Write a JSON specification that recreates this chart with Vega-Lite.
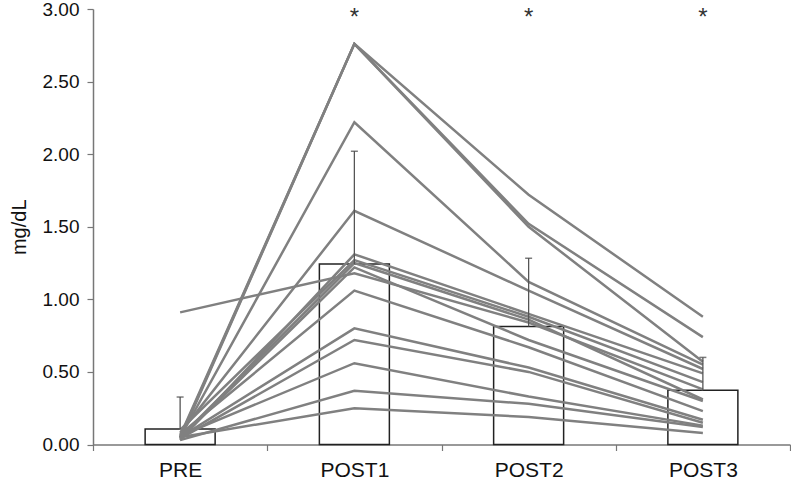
{
  "$schema": "https://vega.github.io/schema/vega-lite/v6.json",
  "autosize": {"type": "none"},
  "padding": {"left": 93, "top": 9, "right": 1, "bottom": 41.5},
  "width": 697,
  "height": 435.5,
  "background": "white",
  "config": {
    "font": "Liberation Sans",
    "view": {"stroke": null}
  },
  "datasets": {
    "subjects": [
      {"subject": "S1", "time": "PRE", "value": 0.05}, {"subject": "S1", "time": "POST1", "value": 2.76}, {"subject": "S1", "time": "POST2", "value": 1.72}, {"subject": "S1", "time": "POST3", "value": 0.88},
      {"subject": "S2", "time": "PRE", "value": 0.04}, {"subject": "S2", "time": "POST1", "value": 2.76}, {"subject": "S2", "time": "POST2", "value": 1.52}, {"subject": "S2", "time": "POST3", "value": 0.74},
      {"subject": "S3", "time": "PRE", "value": 0.06}, {"subject": "S3", "time": "POST1", "value": 2.76}, {"subject": "S3", "time": "POST2", "value": 1.50}, {"subject": "S3", "time": "POST3", "value": 0.57},
      {"subject": "S4", "time": "PRE", "value": 0.05}, {"subject": "S4", "time": "POST1", "value": 2.22}, {"subject": "S4", "time": "POST2", "value": 1.12}, {"subject": "S4", "time": "POST3", "value": 0.55},
      {"subject": "S5", "time": "PRE", "value": 0.08}, {"subject": "S5", "time": "POST1", "value": 1.61}, {"subject": "S5", "time": "POST2", "value": 1.06}, {"subject": "S5", "time": "POST3", "value": 0.52},
      {"subject": "S6", "time": "PRE", "value": 0.03}, {"subject": "S6", "time": "POST1", "value": 1.31}, {"subject": "S6", "time": "POST2", "value": 0.90}, {"subject": "S6", "time": "POST3", "value": 0.49},
      {"subject": "S7", "time": "PRE", "value": 0.10}, {"subject": "S7", "time": "POST1", "value": 1.27}, {"subject": "S7", "time": "POST2", "value": 0.88}, {"subject": "S7", "time": "POST3", "value": 0.43},
      {"subject": "S8", "time": "PRE", "value": 0.91}, {"subject": "S8", "time": "POST1", "value": 1.18}, {"subject": "S8", "time": "POST2", "value": 0.84}, {"subject": "S8", "time": "POST3", "value": 0.38},
      {"subject": "S9", "time": "PRE", "value": 0.05}, {"subject": "S9", "time": "POST1", "value": 1.25}, {"subject": "S9", "time": "POST2", "value": 0.86}, {"subject": "S9", "time": "POST3", "value": 0.31},
      {"subject": "S10", "time": "PRE", "value": 0.04}, {"subject": "S10", "time": "POST1", "value": 1.22}, {"subject": "S10", "time": "POST2", "value": 0.72}, {"subject": "S10", "time": "POST3", "value": 0.30},
      {"subject": "S11", "time": "PRE", "value": 0.07}, {"subject": "S11", "time": "POST1", "value": 1.06}, {"subject": "S11", "time": "POST2", "value": 0.67}, {"subject": "S11", "time": "POST3", "value": 0.23},
      {"subject": "S12", "time": "PRE", "value": 0.05}, {"subject": "S12", "time": "POST1", "value": 0.80}, {"subject": "S12", "time": "POST2", "value": 0.53}, {"subject": "S12", "time": "POST3", "value": 0.17},
      {"subject": "S13", "time": "PRE", "value": 0.04}, {"subject": "S13", "time": "POST1", "value": 0.72}, {"subject": "S13", "time": "POST2", "value": 0.50}, {"subject": "S13", "time": "POST3", "value": 0.15},
      {"subject": "S14", "time": "PRE", "value": 0.06}, {"subject": "S14", "time": "POST1", "value": 0.56}, {"subject": "S14", "time": "POST2", "value": 0.33}, {"subject": "S14", "time": "POST3", "value": 0.13},
      {"subject": "S15", "time": "PRE", "value": 0.03}, {"subject": "S15", "time": "POST1", "value": 0.37}, {"subject": "S15", "time": "POST2", "value": 0.28}, {"subject": "S15", "time": "POST3", "value": 0.12},
      {"subject": "S16", "time": "PRE", "value": 0.05}, {"subject": "S16", "time": "POST1", "value": 0.25}, {"subject": "S16", "time": "POST2", "value": 0.19}, {"subject": "S16", "time": "POST3", "value": 0.08}
    ],
    "summary": [
      {"time": "PRE", "mean": 0.106, "upper": 0.327},
      {"time": "POST1", "mean": 1.243, "upper": 2.02},
      {"time": "POST2", "mean": 0.813, "upper": 1.283},
      {"time": "POST3", "mean": 0.373, "upper": 0.60}
    ],
    "stars": [
      {"time": "POST1", "y": 2.94, "label": "*"},
      {"time": "POST2", "y": 2.94, "label": "*"},
      {"time": "POST3", "y": 2.94, "label": "*"}
    ]
  },
  "encoding": {
    "x": {
      "field": "time", "type": "nominal",
      "scale": {"domain": ["PRE", "POST1", "POST2", "POST3"], "paddingInner": 0, "paddingOuter": 0},
      "axis": {
        "title": null, "labelAngle": 0, "tickBand": "extent",
        "domainColor": "#777", "domainWidth": 1.5, "tickColor": "#777", "tickWidth": 1.2, "tickSize": 6,
        "labelFontSize": 21, "labelColor": "#111", "labelPadding": 9, "labelBaseline": "top"
      }
    }
  },
  "layer": [
    {
      "data": {"name": "summary"},
      "mark": {"type": "bar", "fill": "white", "stroke": "#222", "strokeWidth": 1.5, "size": 70},
      "encoding": {
        "y": {
          "field": "mean", "type": "quantitative",
          "scale": {"domain": [0, 3], "nice": false},
          "axis": {
            "title": "mg/dL", "titleFontSize": 20, "titleFontWeight": "normal", "titleColor": "#111", "titlePadding": 13,
            "values": [0, 0.5, 1, 1.5, 2, 2.5, 3], "format": ".2f", "grid": false,
            "domainColor": "#777", "domainWidth": 1.5, "tickColor": "#777", "tickWidth": 1.2, "tickSize": 6,
            "labelFontSize": 19, "labelColor": "#111", "labelPadding": 8
          }
        }
      }
    },
    {
      "data": {"name": "subjects"},
      "mark": {"type": "line", "color": "#808080", "strokeWidth": 2.5},
      "encoding": {
        "y": {"field": "value", "type": "quantitative"},
        "detail": {"field": "subject"}
      }
    },
    {
      "data": {"name": "summary"},
      "mark": {"type": "rule", "color": "#555", "strokeWidth": 1.3},
      "encoding": {
        "y": {"field": "mean", "type": "quantitative"},
        "y2": {"field": "upper"}
      }
    },
    {
      "data": {"name": "summary"},
      "mark": {"type": "tick", "color": "#444", "size": 7, "thickness": 1.5, "orient": "horizontal"},
      "encoding": {
        "y": {"field": "upper", "type": "quantitative"}
      }
    },
    {
      "data": {"name": "stars"},
      "mark": {"type": "text", "fontSize": 24, "color": "#333", "baseline": "middle"},
      "encoding": {
        "y": {"field": "y", "type": "quantitative"},
        "text": {"field": "label"}
      }
    }
  ]
}
